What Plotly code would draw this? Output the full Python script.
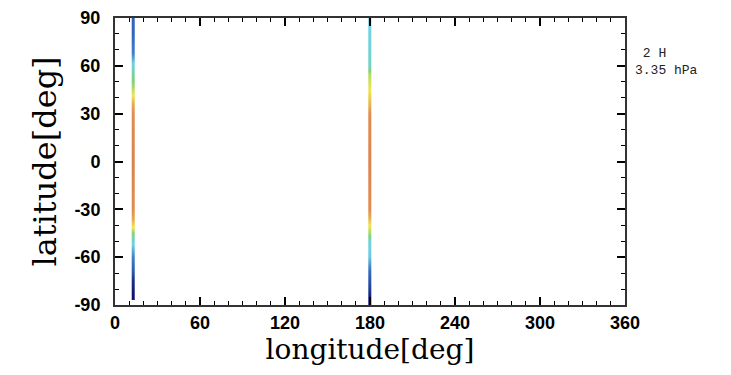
import plotly.graph_objects as go

# ---- data ----
lon_ticks = [0, 60, 120, 180, 240, 300, 360]
lat_ticks = [-90, -60, -30, 0, 30, 60, 90]

left_lon = 13
left_lat = [-83, -75, -68, -60, -52, -46, -41, -36, -30, 0, 30, 36, 42, 48, 55, 62, 68, 80, 90]
left_val = [0.0, 0.06, 0.18, 0.25, 0.40, 0.50, 0.70, 0.80, 0.85, 0.87, 0.85, 0.80, 0.70, 0.58, 0.50, 0.40, 0.25, 0.20, 0.20]

right_lon = 180
right_lat = [-90, -85, -78, -68, -60, -50, -45, -40, -35, -30, 0, 30, 36, 45, 55, 60, 70, 85, 90]
right_val = [0.0, 0.03, 0.12, 0.22, 0.38, 0.42, 0.60, 0.70, 0.80, 0.85, 0.87, 0.85, 0.78, 0.70, 0.62, 0.45, 0.42, 0.40, 0.40]

label_text = "&nbsp;2 H<br>3.35 hPa"
x_title = "longitude[deg]"
y_title = "latitude[deg]"

colorscale = [
    [0.0, "rgb(15,20,110)"],
    [0.2, "rgb(50,100,190)"],
    [0.4, "rgb(110,210,230)"],
    [0.55, "rgb(130,210,120)"],
    [0.7, "rgb(240,230,80)"],
    [0.85, "rgb(225,140,80)"],
    [1.0, "rgb(190,70,40)"],
]

fig = go.Figure()
half = 0.6
for lon, lats, vals in [(left_lon, left_lat, left_val), (right_lon, right_lat, right_val)]:
    fig.add_trace(go.Heatmap(
        x=[lon - half, lon + half],
        y=lats,
        z=[[v, v] for v in vals],
        zmin=0, zmax=1,
        colorscale=colorscale,
        zsmooth="best",
        showscale=False,
        hoverinfo="skip",
    ))

tickfont = dict(family="Liberation Sans", size=18, color="black", weight="bold")

fig.update_xaxes(
    range=[0, 360], tickvals=lon_ticks, ticktext=[str(t) for t in lon_ticks],
    ticks="inside", ticklen=8, tickwidth=1.5, tickcolor="black",
    minor=dict(dtick=10, ticks="inside", ticklen=4, tickcolor="black", tickwidth=1),
    showline=True, linecolor="#333", linewidth=2, mirror="ticks",
    showgrid=False, zeroline=False, tickfont=tickfont, automargin=False,
    title=dict(text=x_title, font=dict(family="DejaVu Serif", size=28, color="black"), standoff=6),
)
fig.update_yaxes(
    range=[-90, 90], tickvals=lat_ticks, ticktext=[str(t) for t in lat_ticks],
    ticks="inside", ticklen=8, tickwidth=1.5, tickcolor="black",
    minor=dict(dtick=10, ticks="inside", ticklen=4, tickcolor="black", tickwidth=1),
    showline=True, linecolor="#333", linewidth=2, mirror="ticks",
    showgrid=False, zeroline=False, tickfont=tickfont, ticklabelstandoff=9, automargin=False,
    title=dict(text=y_title, font=dict(family="DejaVu Serif", size=32, color="black"), standoff=8),
)

pw, ph = 731 - 115 - 106, 375 - 18 - 70
fig.add_annotation(
    x=(633 - 115) / pw, y=(375 - 70 - 62) / ph, xref="paper", yref="paper",
    xanchor="left", yanchor="middle",
    text=label_text, showarrow=False, align="left",
    font=dict(family="Liberation Mono", size=13, color="#222"),
)

fig.update_layout(
    width=731, height=375,
    margin=dict(l=115, r=106, t=18, b=70),
    plot_bgcolor="white", paper_bgcolor="white",
)

fig.write_html("out.html")
